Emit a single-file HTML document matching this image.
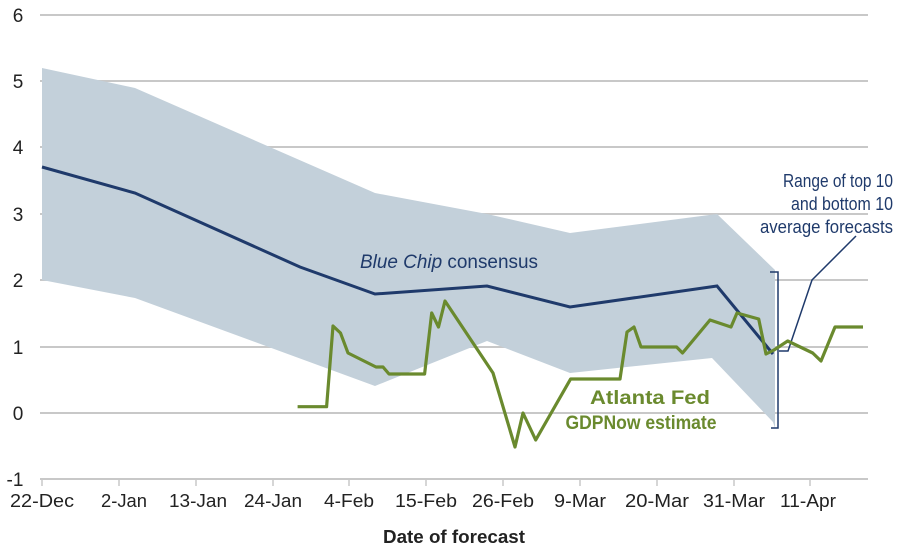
<!DOCTYPE html>
<html><head><meta charset="utf-8"><style>
body{margin:0;background:#fff}
svg text{font-family:"Liberation Sans Narrow","Liberation Sans",sans-serif}
</style></head><body>
<svg width="900" height="549" viewBox="0 0 900 549" xmlns="http://www.w3.org/2000/svg">
<g stroke="#c8c8c8" stroke-width="2">
<line x1="40" y1="15" x2="868" y2="15"/><line x1="40" y1="81" x2="868" y2="81"/>
<line x1="40" y1="147" x2="868" y2="147"/><line x1="40" y1="214" x2="868" y2="214"/>
<line x1="40" y1="280" x2="868" y2="280"/><line x1="40" y1="347" x2="868" y2="347"/>
<line x1="40" y1="413" x2="868" y2="413"/><line x1="40" y1="479" x2="868" y2="479"/>
</g>
<g stroke="#c8c8c8" stroke-width="1.5">
<line x1="42" y1="479" x2="42" y2="486"/><line x1="119" y1="479" x2="119" y2="486"/>
<line x1="196" y1="479" x2="196" y2="486"/><line x1="273" y1="479" x2="273" y2="486"/>
<line x1="349" y1="479" x2="349" y2="486"/><line x1="426" y1="479" x2="426" y2="486"/>
<line x1="503" y1="479" x2="503" y2="486"/><line x1="580" y1="479" x2="580" y2="486"/>
<line x1="657" y1="479" x2="657" y2="486"/><line x1="734" y1="479" x2="734" y2="486"/>
<line x1="810" y1="479" x2="810" y2="486"/>
</g>
<polygon fill="#c3d0da" points="42,68 135,88 375,193 487,214 570,233 717,214 775,270 775,428 773,422 712,358 570,373 487,341 375,386 135,298 42,280"/>
<polyline fill="none" stroke="#1f3a6b" stroke-width="3" points="42,167 135,193 300,267 375,294 487,286 570,307 717,286 773,354"/>
<g fill="none" stroke="#1f3a6b" stroke-width="1.5">
<polyline points="770,272 778,272 778,428 771,428"/>
<polyline points="779,351 788,351 812,280 856,236"/>
</g>
<polyline fill="none" stroke="#6a8a2e" stroke-width="3.2" stroke-linejoin="round" points="297.6,406.7 326.6,406.7 333,326 340.5,333 348,353 376,367 383,367 389,374 424.6,374 431.7,313 438.5,327 445,301 493,373 515,447 523,413 535.7,440 570.6,379 620,379 627,332 634,327 641,347 676.6,347 682.5,353 710,320 731,327 737,313 758.7,319 766,354 774,350 787.7,341 812.7,353 821,361 835,327 863,327"/>
<g font-size="19" fill="#222" text-anchor="middle">
<text x="18" y="22">6</text><text x="18" y="88">5</text><text x="18" y="154">4</text>
<text x="18" y="221">3</text><text x="18" y="287">2</text><text x="18" y="354">1</text>
<text x="18" y="420">0</text><text x="15" y="486">-1</text>
</g>
<g font-size="18" fill="#222" text-anchor="middle">
<text x="42" y="507" textLength="64" lengthAdjust="spacingAndGlyphs">22-Dec</text>
<text x="124" y="507" textLength="46" lengthAdjust="spacingAndGlyphs">2-Jan</text>
<text x="198" y="507" textLength="58" lengthAdjust="spacingAndGlyphs">13-Jan</text>
<text x="273" y="507" textLength="58" lengthAdjust="spacingAndGlyphs">24-Jan</text>
<text x="349" y="507" textLength="50" lengthAdjust="spacingAndGlyphs">4-Feb</text>
<text x="426" y="507" textLength="62" lengthAdjust="spacingAndGlyphs">15-Feb</text>
<text x="503" y="507" textLength="62" lengthAdjust="spacingAndGlyphs">26-Feb</text>
<text x="580" y="507" textLength="52" lengthAdjust="spacingAndGlyphs">9-Mar</text>
<text x="657" y="507" textLength="64" lengthAdjust="spacingAndGlyphs">20-Mar</text>
<text x="734" y="507" textLength="62" lengthAdjust="spacingAndGlyphs">31-Mar</text>
<text x="808" y="507" textLength="56" lengthAdjust="spacingAndGlyphs">11-Apr</text>
</g>
<text x="454" y="543" font-size="18" font-weight="bold" fill="#222" text-anchor="middle" textLength="142" lengthAdjust="spacingAndGlyphs">Date of forecast</text>
<text x="449" y="268" font-size="19" fill="#1f3a6b" text-anchor="middle" textLength="178" lengthAdjust="spacingAndGlyphs"><tspan font-style="italic">Blue Chip</tspan> consensus</text>
<g font-size="19" font-weight="bold" fill="#6a8a2e" text-anchor="middle">
<text x="650" y="404" textLength="120" lengthAdjust="spacingAndGlyphs">Atlanta Fed</text>
<text x="641" y="429" textLength="151" lengthAdjust="spacingAndGlyphs">GDPNow estimate</text>
</g>
<g font-size="18" fill="#1f3a6b" text-anchor="end">
<text x="893" y="187" textLength="110" lengthAdjust="spacingAndGlyphs">Range of top 10</text>
<text x="893" y="210" textLength="102" lengthAdjust="spacingAndGlyphs">and bottom 10</text>
<text x="893" y="233" textLength="133" lengthAdjust="spacingAndGlyphs">average forecasts</text>
</g>
</svg>
</body></html>
